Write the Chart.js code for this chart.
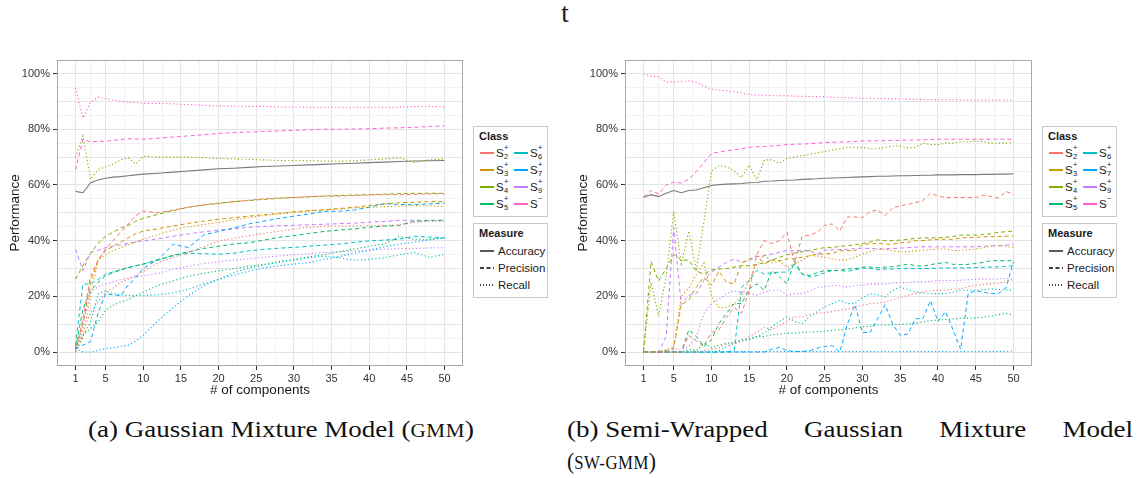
<!DOCTYPE html>
<html>
<head>
<meta charset="utf-8">
<script src="https://cdn.jsdelivr.net/npm/chart.js@4/dist/chart.umd.min.js"></script>
<style>
  html, body { margin: 0; padding: 0; background: #fff; }
  body { width: 1139px; height: 478px; position: relative; overflow: hidden;
         font-family: "Liberation Sans", Arial, sans-serif; color: #1a1a1a; }
  canvas { position: absolute; }
  #chartA { left: 0; top: 50px; }
  #chartB { left: 568px; top: 50px; }
  .fig-title { position: absolute; left: 553px; top: 0px; width: 24px; text-align: center;
               font-family: "Liberation Serif", "DejaVu Serif", serif; font-size: 27px; line-height: 27px; }
  .caption { position: absolute; font-family: "Liberation Serif", "DejaVu Serif", serif;
             font-size: 23px; line-height: 26px; white-space: nowrap; color: #111; }
  .sc { font-size: 0.78em; letter-spacing: 0.5px; }
  .keep { display: inline-block; white-space: nowrap; }
  .legend { position: absolute; border: 1px solid #c9c9c9; box-sizing: border-box; background: #fff; }
  .legend .ttl { position: absolute; left: 5px; top: 2px; font-weight: bold; font-size: 11px; line-height: 14px; }
  .legend .lab { position: absolute; font-size: 11.5px; line-height: 14px; white-space: nowrap; }
  .legend svg { position: absolute; }
  .sl { display: inline-block; position: relative; padding-right: 6px; }
  .ss { position: absolute; left: 8px; font-size: 7.5px; line-height: 7px; }
  .ss.sp { top: -2px; }
  .ss.sb { top: 7.5px; }
</style>
</head>
<body>

<div class="fig-title">t</div>
<canvas id="chartA" width="470" height="360"></canvas>
<canvas id="chartB" width="471" height="360"></canvas>
<div id="legends"></div>

<div class="caption" id="capA" style="left:88px; top:417px;">(a) Gaussian Mixture Model (<span class="sc">GMM</span>)</div>
<div class="caption" id="capB1" style="left:567px; top:417px; white-space:normal; text-align:justify; text-align-last:justify;"><span class="keep">(b) Semi-Wrapped</span> Gaussian Mixture Model</div>
<div class="caption" id="capB2" style="left:567px; top:449px;">(<span class="sc">SW-GMM</span>)</div>

<script>
// ---- classes and measures ----
const CLASS_NAMES = ['S2+', 'S3+', 'S4+', 'S5+', 'S6+', 'S7+', 'S9+', 'S-'];
const CLASS_SUB   = ['2', '3', '4', '5', '6', '7', '9', ''];
const CLASS_SUP   = ['+', '+', '+', '+', '+', '+', '+', '\u2212'];
const CLASS_COLORS = ['#F8766D', '#CD9600', '#7CAE00', '#00BE67', '#00BFC4', '#00A9FF', '#C77CFF', '#FF61CC'];
const MEASURES = ['Accuracy', 'Precision', 'Recall'];

// ---- axis ticks ----
const X_TICKS = [1, 5, 10, 15, 20, 25, 30, 35, 40, 45, 50];
const Y_TICKS = [0, 20, 40, 60, 80, 100];

// ---- (a) Gaussian Mixture Model ----
const COMPONENTS_A = [1, 2, 3, 4, 5, 6, 7, 8, 9, 10, 12, 14, 16, 18, 20, 22, 24, 26, 28, 30, 32, 34, 36, 38, 40, 42, 44, 46, 48, 50];
const ACC_A = [57.7, 57.2, 60.8, 61.8, 62.4, 62.8, 63, 63.3, 63.6, 63.9, 64.2, 64.6, 65, 65.4, 65.8, 66, 66.3, 66.6, 66.8, 67, 67.2, 67.4, 67.6, 67.8, 68, 68.2, 68.4, 68.6, 68.7, 68.8];
const S2_PREC_A = [0, 12, 27, 33, 37, 40, 43, 46, 49, 50.6, 50, 51, 52, 52.8, 53.3, 54, 54.5, 55, 55.3, 55.5, 55.8, 56, 56, 56.2, 56.4, 56.5, 56.5, 56.6, 56.8, 56.8];
const S2_REC_A = [0, 8, 14, 18, 21.5, 23, 25, 26.2, 27.5, 29, 32.1, 34, 35.7, 37.8, 39.9, 40.8, 41.8, 42.6, 43.4, 44.2, 44.8, 45.2, 45.3, 45.3, 45.4, 45.4, 45.7, 46.5, 47, 47];
const S3_PREC_A = [2, 10, 25, 33, 36.5, 38, 39.5, 41, 42.5, 43.4, 44.3, 45.3, 46.2, 47, 47.7, 48.2, 48.8, 49.3, 49.8, 50.4, 50.8, 51.1, 51.5, 52, 52.6, 53.2, 53.6, 53.8, 54, 54];
const S3_REC_A = [0, 5, 20, 33, 35, 36.5, 37.5, 38.5, 39.5, 40.5, 42.3, 43.8, 45, 45.8, 46.5, 47.4, 48.3, 49, 49.6, 50, 50.6, 51, 51.4, 51.8, 52, 52.2, 52.4, 52.6, 52.5, 52.3];
const S4_PREC_A = [26.2, 31, 35.5, 39, 41.6, 43, 44.5, 45.5, 47, 48, 49.5, 50.8, 52, 52.8, 53.5, 54, 54.4, 54.8, 55.2, 55.5, 55.7, 56, 56.2, 56.4, 56.5, 56.7, 56.9, 57, 57, 57];
const S4_REC_A = [70, 77.6, 62, 65.5, 66.5, 67.5, 69, 69.8, 67.5, 70.3, 70, 70, 70, 69.8, 69.5, 69.3, 69.2, 69, 68.8, 68.8, 68.7, 68.6, 68.5, 68.7, 69, 69.3, 69.8, 68, 69, 69.3];
const S5_PREC_A = [1.3, 15.5, 22, 25, 27.4, 28.5, 29.5, 30.3, 31, 31.6, 33.2, 34.8, 36, 37.2, 38, 38.8, 39.2, 40.2, 41.2, 41.8, 42.6, 43.3, 43.8, 44.2, 44.8, 45.2, 45.5, 47, 47.2, 47.3];
const S5_REC_A = [0, 6, 8.5, 10.8, 15, 16.8, 18, 18.8, 20.3, 21.5, 24, 25.6, 27.2, 28.3, 29.2, 30, 30.8, 31.5, 32.5, 33.3, 34.2, 35, 36, 37, 38, 38.8, 41.5, 40.5, 40.5, 41];
const S6_PREC_A = [2.5, 24.4, 24.4, 26, 28, 28.8, 29.6, 30.4, 31, 31.6, 33, 34.6, 35.5, 35.3, 35.1, 35.5, 36.3, 36.9, 37.3, 37.6, 38, 38.4, 38.8, 39.4, 39.9, 40.2, 40.5, 41.6, 41.3, 41];
const S6_REC_A = [2, 6, 10.8, 20.9, 22, 21, 20.5, 20.3, 20.3, 20.3, 20.6, 21.3, 22.5, 24.5, 26, 28.5, 30.2, 31.2, 32.2, 33, 33.8, 34.4, 33.9, 33, 33.3, 33.8, 35, 35.8, 34, 35.1];
const S7_PREC_A = [1.3, 2.5, 3.7, 14, 21, 20.5, 20.3, 24, 26.8, 30, 33.3, 38.7, 37.5, 42, 43.3, 44.5, 46, 47, 48, 48.8, 49.6, 50.5, 50.6, 51, 52, 53.3, 53, 52.9, 53.2, 53.5];
const S7_REC_A = [1.3, 0, 0, 0.5, 1.3, 1.5, 2, 2.5, 4, 6, 11.4, 16.1, 20.3, 23.8, 26.2, 27.6, 29, 30.2, 31, 31.6, 32.1, 33.3, 34.3, 35.5, 36.5, 37.8, 38.7, 39.5, 40.3, 41];
const S9_PREC_A = [36.9, 29.2, 35.7, 36.5, 37.5, 38, 38.5, 39, 39.5, 39.9, 40.7, 41.6, 42.4, 43.2, 43.8, 44.3, 44.8, 45.1, 45.4, 45.5, 45.7, 45.9, 46.1, 46.3, 46.6, 46.9, 47.3, 47.3, 47.3, 47.3];
const S9_REC_A = [0, 10, 21.5, 23.5, 24.4, 25.2, 26, 26.5, 27, 27.4, 28.3, 29.8, 30.8, 31.8, 32.4, 33, 33.5, 34, 34.5, 35, 35.3, 35.7, 36, 36.3, 36.6, 36.9, 37.1, 37.2, 37.4, 37.5];
const SNEG_PREC_A = [65.4, 76.4, 75.5, 75.6, 75.7, 76, 76.3, 76.6, 76.5, 76.4, 76.8, 77.2, 77.6, 78, 78.5, 78.8, 79, 79.2, 79.4, 79.6, 79.8, 80, 80, 80.1, 80.2, 80.4, 80.5, 80.7, 81, 81.2];
const SNEG_REC_A = [94.8, 84, 89.7, 91.5, 91, 90.5, 90, 89.7, 89.6, 89.3, 89.3, 89.1, 88.8, 88.6, 88.3, 88.3, 88.2, 88.2, 88, 88, 87.9, 87.9, 87.9, 87.9, 87.9, 87.9, 87.9, 88.1, 88.2, 88];

// ---- (b) Semi-Wrapped Gaussian Mixture Model ----
const COMPONENTS_B = [1, 2, 3, 4, 5, 6, 7, 8, 9, 10, 11, 12, 13, 14, 15, 16, 17, 18, 19, 20, 21, 22, 23, 24, 25, 26, 27, 28, 29, 30, 31, 32, 33, 34, 35, 36, 37, 38, 39, 40, 41, 42, 43, 44, 45, 46, 47, 48, 49, 50];
const ACC_B = [55.6, 56.5, 55.8, 57, 58, 57.2, 58, 58.2, 59, 59.8, 60.1, 60.3, 60.4, 60.5, 60.8, 60.9, 61.3, 61.4, 61.6, 61.7, 61.8, 62, 62.1, 62.2, 62.4, 62.5, 62.6, 62.7, 62.8, 62.9, 63, 63.1, 63.1, 63.2, 63.3, 63.3, 63.4, 63.5, 63.5, 63.6, 63.6, 63.6, 63.7, 63.7, 63.7, 63.8, 63.8, 63.9, 63.9, 64];
const S2_PREC_B = [0, 0, 0, 0, 0, 0, 6, 4, 2, 7, 8, 12.5, 16, 14, 22, 35, 40, 39, 40, 43, 32, 41.5, 42, 43, 45.5, 46, 43.5, 48.5, 48.5, 48.2, 50.5, 51, 49, 51.8, 52.5, 53, 53.6, 54.5, 57, 56, 55.5, 55.5, 55.5, 55.5, 55.5, 56.3, 55.9, 55.3, 57.7, 56.5];
const S2_REC_B = [0, 0, 0, 0, 0, 0, 0, 0, 0.5, 1, 1.5, 3, 3, 4, 5.6, 7, 9, 8, 9.5, 11, 12.7, 12.5, 13.5, 13.9, 14.2, 14.5, 15, 15.5, 16.2, 16.8, 17.4, 17.6, 18, 18.8, 19.5, 20.4, 21, 21.6, 21.9, 22.2, 22.3, 22.5, 22.7, 23.5, 24, 24.2, 24.5, 24.8, 25.3, 26];
const S3_PREC_B = [0, 0, 0, 0.5, 1.4, 17, 18.6, 23.3, 26.9, 24, 29, 25, 24.5, 32, 33.4, 34.6, 31.6, 33, 32.8, 33.4, 33.6, 34, 34.6, 35.2, 35.2, 35.5, 36.4, 36.4, 36.4, 38.7, 38.8, 39, 38.8, 38.7, 39.3, 39.3, 40, 40, 40.3, 40.5, 40.5, 40.5, 41, 41.1, 41.2, 41.4, 41.4, 41.5, 41.6, 41.7];
const S3_REC_B = [0, 0, 0, 1, 2, 20, 23, 28, 32, 20, 16, 16, 17.4, 20, 25.7, 31.6, 35, 32, 32.5, 30.5, 31.6, 33, 34.6, 34.5, 34, 33.5, 33, 33.2, 34, 35.2, 36, 37, 36.8, 36.4, 36, 36, 36.4, 36.5, 36.8, 37, 37, 36.4, 36.5, 36.7, 37, 37.5, 38, 38.2, 38, 37.6];
const S4_PREC_B = [0, 32.5, 25.5, 30, 35, 33, 33, 29, 28, 29.5, 29.8, 30, 30.5, 31, 31, 31.5, 32, 33, 34, 35, 35.5, 36, 36.5, 37, 37.5, 37.5, 38, 38.2, 38.5, 39, 39.5, 40.3, 40, 40, 40.2, 40.5, 40.8, 41, 41, 41, 41.2, 41.5, 42, 42, 42, 42.2, 42.5, 43, 43.2, 43.5];
const S4_REC_B = [0, 25, 13, 27, 50.6, 31.6, 43.5, 29.3, 47, 65, 67, 66.5, 65, 62.7, 67.2, 61.8, 69, 69, 67.8, 69.5, 70, 70.5, 71, 71.5, 72, 72.5, 73, 73.5, 73.5, 73.5, 73, 73, 73.5, 74, 74, 73.3, 73.5, 75, 74.5, 74.5, 75, 75, 75.5, 75.5, 75.8, 75.5, 75, 75, 75, 75.3];
const S5_PREC_B = [0, 0, 0, 0, 0, 0, 8, 5.6, 2, 4.4, 10.3, 13.9, 17.4, 17.4, 22.7, 24.5, 22.2, 29.3, 27, 24.5, 32.8, 28, 27.5, 28.5, 29.3, 29.3, 29.3, 29.9, 29.9, 30.5, 30.5, 30.3, 30.5, 30.7, 31, 31.6, 31, 30.8, 31.4, 31.8, 32.2, 31.5, 31.4, 31.5, 31.8, 32.2, 32.8, 32.8, 32.8, 32.8];
const S5_REC_B = [0, 0, 0, 0, 0, 0, 1, 0.5, 3.2, 1.5, 2.5, 3.2, 3.5, 4.4, 4.8, 5.6, 5.6, 6.2, 6.5, 6.8, 6.8, 7, 7.2, 7.3, 7.5, 7.8, 8, 8.3, 8.7, 9.1, 9.3, 9.7, 9.7, 9.7, 10, 10.1, 10.3, 10.8, 11.3, 11.5, 11.7, 11.9, 12.1, 12.2, 12.3, 12.5, 12.9, 13.4, 13.9, 13.3];
const S6_PREC_B = [0, 0, 0, 0, 0, 0, 0, 0, 0, 0, 0, 0, 0.5, 23.3, 25.7, 29.3, 28, 28.5, 28.7, 28.7, 31.6, 28, 27, 27.5, 28.5, 29.3, 29.3, 29, 29.5, 30.2, 30, 29.6, 29.8, 29.8, 30, 30, 30, 30, 30, 30.1, 30.2, 30.2, 30.2, 30.3, 30.3, 30.4, 30.5, 30.6, 30.8, 31];
const S6_REC_B = [0, 0, 0, 0, 0, 0, 0, 0, 0, 0, 0.5, 2, 3.2, 4, 4.4, 5.5, 6.8, 9, 11, 12.7, 11, 10.3, 12.7, 14.5, 16.2, 17.4, 18.6, 17.4, 17.4, 19.5, 21, 20.5, 19.8, 22.2, 23.3, 22.4, 21.6, 21.2, 21, 21, 21, 21.5, 22.2, 22.2, 22.2, 22.4, 22.7, 22.5, 22.3, 22.2];
const S7_PREC_B = [0, 0, 0, 0, 0, 0, 0, 0, 0, 0, 0, 0, 0, 0, 0, 0, 0, 1, 1.7, 0.5, 0.2, 0.2, 0.5, 1.4, 2, 2.3, 0, 10, 17, 7, 7, 12, 17, 10, 6, 6.5, 12, 12, 18.5, 11, 14.5, 8, 1, 21, 22, 21.5, 21, 21, 23, 32.5];
const S7_REC_B = [0, 0, 0, 0, 0, 0, 0, 0, 0, 0, 0.2, 0.2, 0.2, 0.2, 0.2, 0.2, 0.2, 0.2, 0.2, 0.2, 0.2, 0.2, 0.2, 0.2, 0.2, 0.2, 0.2, 0.2, 0.2, 0.2, 0.2, 0.2, 0.2, 0.2, 0.2, 0.2, 0.2, 0.2, 0.2, 0.2, 0.2, 0.2, 0.2, 0.2, 0.2, 0.2, 0.2, 0.2, 0.3, 0.3];
const S9_PREC_B = [0, 0, 0, 5.6, 44.7, 17, 20.4, 21, 25.7, 28.7, 30.5, 32.2, 33.4, 32.2, 32.8, 34.3, 34.6, 35.2, 35.8, 36.4, 36.4, 36.4, 36.4, 35.2, 36.6, 36.7, 36.8, 36.9, 37.1, 37.3, 37.2, 37.1, 37.1, 37.2, 37.3, 37.5, 37.7, 37.8, 37.8, 37.8, 37.8, 37.8, 37.8, 37.8, 37.8, 38, 38.1, 38.2, 38.4, 38.7];
const S9_REC_B = [0, 0, 0, 0.5, 1, 1, 2, 5.6, 13.9, 17.4, 19, 21, 22, 21.5, 21, 20.4, 21.5, 22.2, 22.2, 20.4, 21, 21, 22, 23.1, 23.5, 24, 23.8, 23.3, 24, 24, 24.5, 24.5, 24.5, 24.8, 24.9, 25, 25.2, 25.2, 25.4, 25.7, 25.7, 25.7, 25.8, 26, 26.2, 26.2, 26.2, 26.3, 26.3, 26.3];
const SNEG_PREC_B = [55.7, 58, 56.8, 60, 61, 60.7, 62, 64.8, 68, 71.3, 71.8, 72.3, 72.6, 73, 73.5, 73.7, 73.8, 74, 74.2, 74.5, 74.6, 74.7, 74.8, 75, 75.2, 75.3, 75.4, 75.5, 75.6, 75.8, 75.8, 75.9, 75.9, 76, 76, 76.1, 76.1, 76.2, 76.3, 76.4, 76.4, 76.4, 76.4, 76.4, 76.4, 76.4, 76.4, 76.4, 76.4, 76.4];
const SNEG_REC_B = [99.9, 99, 98.8, 97, 97, 97.2, 97.4, 96.8, 95.5, 94.4, 94, 93.8, 93.5, 93, 92.4, 92.3, 92.2, 92.1, 92, 92, 91.9, 91.8, 91.8, 91.7, 91.6, 91.5, 91.4, 91.3, 91.2, 91.1, 91.1, 91, 91, 90.9, 90.9, 90.8, 90.8, 90.7, 90.7, 90.6, 90.6, 90.6, 90.5, 90.5, 90.5, 90.5, 90.5, 90.5, 90.5, 90.5];

// ---- styling ----
const FONT = '"Liberation Sans", Arial, sans-serif';
const DASHES = { Accuracy: [], Precision: [4, 3], Recall: [1.2, 2.4] };
const ACC_COLOR = '#7a7a7a';

Chart.defaults.font.family = FONT;

function points(xs, ys) {
  return xs.map((x, i) => ({ x: x, y: ys[i] }));
}

function buildDatasets(xs, acc, precs, recs) {
  const ds = [];
  CLASS_NAMES.forEach((name, i) => {
    ds.push({ label: name + ' Recall', data: points(xs, recs[i]), borderColor: CLASS_COLORS[i],
              borderDash: DASHES.Recall, borderWidth: 1.1 });
  });
  CLASS_NAMES.forEach((name, i) => {
    ds.push({ label: name + ' Precision', data: points(xs, precs[i]), borderColor: CLASS_COLORS[i],
              borderDash: DASHES.Precision, borderWidth: 1 });
  });
  ds.push({ label: 'Accuracy', data: points(xs, acc), borderColor: ACC_COLOR,
            borderDash: DASHES.Accuracy, borderWidth: 1.1 });
  return ds;
}

// grey frame around the plotting panel
const panelFrame = {
  id: 'panelFrame',
  afterDatasetsDraw(chart) {
    const { ctx, chartArea: a } = chart;
    ctx.save();
    ctx.strokeStyle = '#a9a9a9';
    ctx.lineWidth = 1;
    ctx.strokeRect(Math.round(a.left) + 0.5, Math.round(a.top) + 0.5,
                   Math.round(a.right - a.left) - 1, Math.round(a.bottom - a.top) - 1);
    ctx.restore();
  }
};

function minorBetween(major) {
  const out = [];
  for (let i = 0; i < major.length - 1; i++) out.push((major[i] + major[i + 1]) / 2);
  return out;
}

function makeChart(canvasId, xs, datasets) {
  const xMinor = minorBetween(X_TICKS);
  const xAll = X_TICKS.concat(xMinor).sort((a, b) => a - b);
  const yAll = [];
  for (let v = 0; v <= 100; v += 5) yAll.push(v);

  return new Chart(document.getElementById(canvasId), {
    type: 'line',
    data: { datasets: datasets },
    plugins: [panelFrame],
    options: {
      responsive: false,
      animation: false,
      devicePixelRatio: 1,
      layout: { padding: { left: 0, right: 7, top: 7, bottom: 0 } },
      elements: { point: { radius: 0 }, line: { tension: 0, borderCapStyle: 'butt', fill: false } },
      plugins: { legend: { display: false }, tooltip: { enabled: false }, title: { display: false } },
      scales: {
        x: {
          type: 'linear', min: -1.45, max: 52.45,
          afterBuildTicks: s => { s.ticks = xAll.map(v => ({ value: v })); },
          afterFit: s => { s.height = 44; },
          border: { display: false },
          grid: {
            color: c => X_TICKS.includes(c.tick.value) ? '#e4e4e4' : '#f1f1f1',
            tickColor: c => X_TICKS.includes(c.tick.value) ? '#333333' : 'rgba(0,0,0,0)',
            tickLength: 4, lineWidth: 1
          },
          ticks: {
            autoSkip: false, maxRotation: 0, minRotation: 0, padding: 2,
            color: '#333333', font: { size: 11 },
            callback: v => X_TICKS.includes(v) ? String(v) : ''
          },
          title: { display: true, text: '# of components', color: '#1a1a1a',
                   font: { size: 13.5 }, padding: { top: 0, bottom: 12 } }
        },
        y: {
          type: 'linear', min: -5, max: 105,
          afterBuildTicks: s => { s.ticks = yAll.map(v => ({ value: v })); },
          afterFit: s => { s.width = 57; },
          border: { display: false },
          grid: {
            color: c => c.tick.value % 10 === 0 ? '#e4e4e4' : '#f1f1f1',
            tickColor: c => Y_TICKS.includes(c.tick.value) ? '#333333' : 'rgba(0,0,0,0)',
            tickLength: 4, lineWidth: 1
          },
          ticks: {
            autoSkip: false, padding: 3, color: '#333333', font: { size: 11 },
            callback: v => Y_TICKS.includes(v) ? v + '%' : ''
          },
          title: { display: true, text: 'Performance', color: '#1a1a1a',
                   font: { size: 13.5 }, padding: { top: 7, bottom: 0 } }
        }
      }
    }
  });
}

makeChart('chartA', COMPONENTS_A, buildDatasets(COMPONENTS_A, ACC_A,
  [S2_PREC_A, S3_PREC_A, S4_PREC_A, S5_PREC_A, S6_PREC_A, S7_PREC_A, S9_PREC_A, SNEG_PREC_A],
  [S2_REC_A, S3_REC_A, S4_REC_A, S5_REC_A, S6_REC_A, S7_REC_A, S9_REC_A, SNEG_REC_A]));

makeChart('chartB', COMPONENTS_B, buildDatasets(COMPONENTS_B, ACC_B,
  [S2_PREC_B, S3_PREC_B, S4_PREC_B, S5_PREC_B, S6_PREC_B, S7_PREC_B, S9_PREC_B, SNEG_PREC_B],
  [S2_REC_B, S3_REC_B, S4_REC_B, S5_REC_B, S6_REC_B, S7_REC_B, S9_REC_B, SNEG_REC_B]));

// ---- legends (Class / Measure) ----
function classLabel(i) {
  return 'S<span class="ss sp">' + CLASS_SUP[i] + '</span>' +
         (CLASS_SUB[i] ? '<span class="ss sb">' + CLASS_SUB[i] + '</span>' : '');
}

function keySvg(left, top, color, dash, width) {
  return '<svg style="left:' + left + 'px;top:' + (top - 3) + 'px" width="14" height="6">' +
         '<line x1="0" y1="3" x2="14" y2="3" stroke="' + color + '" stroke-width="' + width + '"' +
         (dash.length ? ' stroke-dasharray="' + dash.join(' ') + '"' : '') + '/></svg>';
}

function buildLegend(left) {
  const host = document.getElementById('legends');
  // Class box
  const rowsY = [25.5, 42.5, 59.5, 76.5];
  let html = '<div class="ttl">Class</div>';
  CLASS_NAMES.forEach((name, i) => {
    const col = i < 4 ? 0 : 1;
    const y = rowsY[i % 4];
    const kx = col === 0 ? 6 : 40;
    const lx = col === 0 ? 22 : 56;
    html += keySvg(kx, y, CLASS_COLORS[i], [], 2);
    html += '<div class="lab sl" style="left:' + lx + 'px;top:' + (y - 7) + 'px">' + classLabel(i) + '</div>';
  });
  const box1 = document.createElement('div');
  box1.className = 'legend';
  box1.style.cssText = 'left:' + left + 'px;top:126px;width:75px;height:91px;';
  box1.innerHTML = html;
  host.appendChild(box1);

  // Measure box
  const mRows = [27, 44, 61];
  let mh = '<div class="ttl" style="top:2px">Measure</div>';
  MEASURES.forEach((m, i) => {
    mh += keySvg(6, mRows[i], '#000', DASHES[m].length ? (m === 'Precision' ? [4, 2.5] : [1, 2]) : [], 1.3);
    mh += '<div class="lab" style="left:24px;top:' + (mRows[i] - 7) + 'px">' + m + '</div>';
  });
  const box2 = document.createElement('div');
  box2.className = 'legend';
  box2.style.cssText = 'left:' + left + 'px;top:223px;width:75px;height:75px;';
  box2.innerHTML = mh;
  host.appendChild(box2);
}

buildLegend(473);
buildLegend(1042);

// captions: stretch the serif text horizontally to its printed proportions
(function fitCaptions() {
  const capA = document.getElementById('capA');
  const k = 386 / capA.getBoundingClientRect().width;
  [capA, document.getElementById('capB1')].forEach(el => {
    el.style.transformOrigin = 'left top';
    el.style.transform = 'scaleX(' + k + ')';
  });
  // the justified line spans the full column width once stretched
  document.getElementById('capB1').style.width = (566 / k) + 'px';
  const capB2 = document.getElementById('capB2');
  const k2 = 89 / capB2.getBoundingClientRect().width;
  capB2.style.transformOrigin = 'left top';
  capB2.style.transform = 'scaleX(' + k2 + ')';
})();
</script>
</body>
</html>
